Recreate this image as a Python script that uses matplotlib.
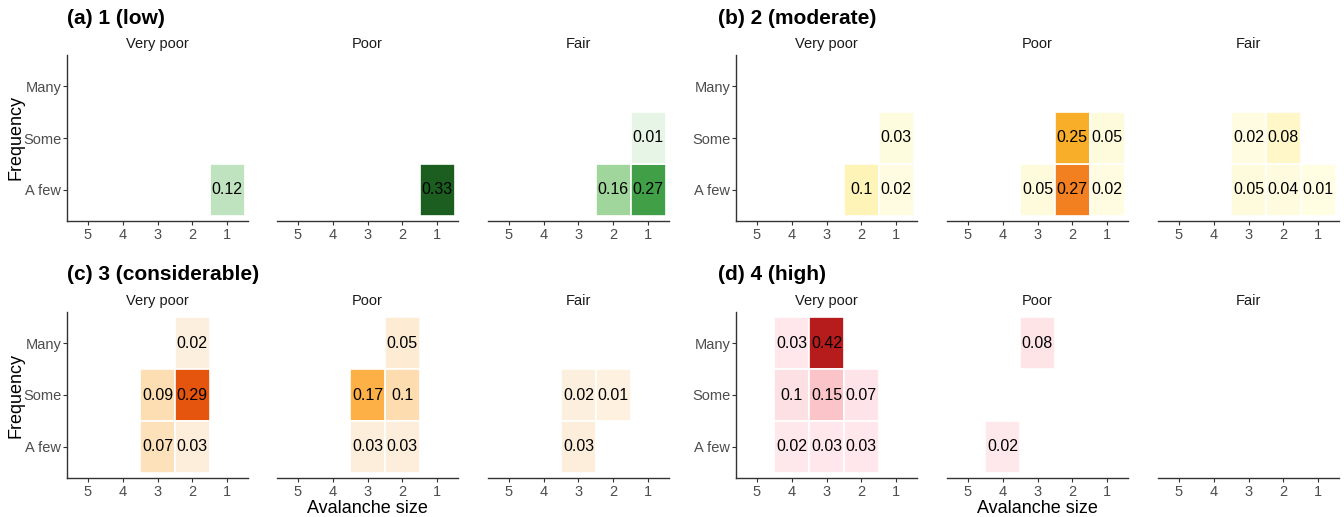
import matplotlib

matplotlib.use("Agg")
import matplotlib.pyplot as plt
from matplotlib.colors import LinearSegmentedColormap, Normalize

plt.rcParams["font.family"] = ["Liberation Sans", "DejaVu Sans"]

FACETS = ["Very poor", "Poor", "Fair"]
FREQ_LABELS = ["A few", "Some", "Many"]
SIZES = [5, 4, 3, 2, 1]

# (a) 1 (low)
low_facet = ["Very poor", "Poor", "Fair", "Fair", "Fair"]
low_size = [1, 1, 2, 1, 1]
low_freq = ["A few", "A few", "A few", "A few", "Some"]
low_value = [0.12, 0.33, 0.16, 0.27, 0.01]

# (b) 2 (moderate)
mod_facet = ["Very poor"] * 3 + ["Poor"] * 5 + ["Fair"] * 5
mod_size = [2, 1, 1, 3, 2, 1, 2, 1, 3, 2, 1, 3, 2]
mod_freq = ["A few", "A few", "Some",
            "A few", "A few", "A few", "Some", "Some",
            "A few", "A few", "A few", "Some", "Some"]
mod_value = [0.1, 0.02, 0.03,
             0.05, 0.27, 0.02, 0.25, 0.05,
             0.05, 0.04, 0.01, 0.02, 0.08]

# (c) 3 (considerable)
con_facet = ["Very poor"] * 5 + ["Poor"] * 5 + ["Fair"] * 3
con_size = [2, 3, 2, 3, 2, 2, 3, 2, 3, 2, 3, 2, 3]
con_freq = ["Many", "Some", "Some", "A few", "A few",
            "Many", "Some", "Some", "A few", "A few",
            "Some", "Some", "A few"]
con_value = [0.02, 0.09, 0.29, 0.07, 0.03,
             0.05, 0.17, 0.1, 0.03, 0.03,
             0.02, 0.01, 0.03]

# (d) 4 (high)
high_facet = ["Very poor"] * 8 + ["Poor"] * 2
high_size = [4, 3, 4, 3, 2, 4, 3, 2, 3, 4]
high_freq = ["Many", "Many", "Some", "Some", "Some",
             "A few", "A few", "A few", "Many", "A few"]
high_value = [0.03, 0.42, 0.1, 0.15, 0.07, 0.02, 0.03, 0.03, 0.08, 0.02]

PANELS = [
    ("(a) 1 (low)", low_facet, low_size, low_freq, low_value),
    ("(b) 2 (moderate)", mod_facet, mod_size, mod_freq, mod_value),
    ("(c) 3 (considerable)", con_facet, con_size, con_freq, con_value),
    ("(d) 4 (high)", high_facet, high_size, high_freq, high_value),
]

# colour ramps (position in 0..max, colour)
RAMPS = [
    [(0.0, "#eaf6ea"), (0.36, "#c0e3c0"), (0.485, "#a0d59c"),
     (0.82, "#41a047"), (1.0, "#1b5e20")],
    [(0.0, "#fffde4"), (0.185, "#fefbdc"), (0.37, "#fff4b8"),
     (0.926, "#f9b02a"), (1.0, "#f28020")],
    [(0.0, "#fef2e2"), (0.103, "#fdeedb"), (0.172, "#fdebd3"),
     (0.24, "#fde1ba"), (0.345, "#fddcb0"), (0.586, "#fdb045"),
     (1.0, "#e6550d")],
    [(0.0, "#ffe9ed"), (0.19, "#fee3e7"), (0.238, "#fde0e4"),
     (0.357, "#fbc4c9"), (1.0, "#b71c1c")],
]

FIG_W, FIG_H = 1344, 517
COL_LEFTS = [[67, 277, 488], [736, 947, 1158]]
COL_W = 181
ROW_TOPS = [55, 312]
ROW_H = 166

fig = plt.figure(figsize=(FIG_W / 100, FIG_H / 100), dpi=100)

for p, (title, facet, size, freq, value) in enumerate(PANELS):
    row, col = divmod(p, 2)
    cmap = LinearSegmentedColormap.from_list(f"ramp{p}", RAMPS[p])
    norm = Normalize(0, max(value))
    top = ROW_TOPS[row]
    for k, fname in enumerate(FACETS):
        left = COL_LEFTS[col][k]
        ax = fig.add_axes([left / FIG_W, 1 - (top + ROW_H) / FIG_H,
                           COL_W / FIG_W, ROW_H / FIG_H])
        for f, s, q, v in zip(facet, size, freq, value):
            if f != fname:
                continue
            yi = FREQ_LABELS.index(q) + 1
            ax.bar(s, 1, bottom=yi - 0.5, width=1, color=cmap(norm(v)),
                   edgecolor="white", linewidth=1.2)
            ax.text(s, yi, f"{v:g}", ha="center", va="center",
                    fontsize=11.5, color="black")
        ax.set_xlim(5.6, 0.4)
        ax.set_ylim(0.4, 3.6)
        ax.set_xticks(SIZES)
        ax.set_xticklabels([str(s) for s in SIZES])
        for sp in ["top", "right"]:
            ax.spines[sp].set_visible(False)
        ax.spines["bottom"].set_color("#333333")
        ax.spines["bottom"].set_linewidth(1.0)
        ax.tick_params(axis="x", colors="#333333", length=3, width=0.8,
                       labelsize=10.5, labelcolor="#4d4d4d", pad=2)
        if k == 0:
            ax.spines["left"].set_color("#333333")
            ax.spines["left"].set_linewidth(1.0)
            ax.set_yticks([1, 2, 3])
            ax.set_yticklabels(FREQ_LABELS)
            ax.tick_params(axis="y", colors="#333333", length=3, width=0.8,
                           labelsize=10.5, labelcolor="#4d4d4d", pad=1)
            if col == 0:
                ax.set_ylabel("Frequency", fontsize=13, color="black",
                              labelpad=0)
                ax.yaxis.set_label_coords(-0.235, 0.5)
        else:
            ax.spines["left"].set_visible(False)
            ax.set_yticks([])
        ax.set_title(fname, fontsize=10.5, color="#1a1a1a", pad=5)
        if k == 1 and row == 1:
            ax.set_xlabel("Avalanche size", fontsize=13, color="black",
                          labelpad=1)
        ax.patch.set_alpha(0)
    x0 = COL_LEFTS[col][0] if col == 0 else COL_LEFTS[col][0] - 18
    fig.text(x0 / FIG_W, 1 - (top - 37) / FIG_H, title, fontsize=15,
             fontweight="bold", ha="left", va="center")

fig.savefig("out.png", dpi=100)
